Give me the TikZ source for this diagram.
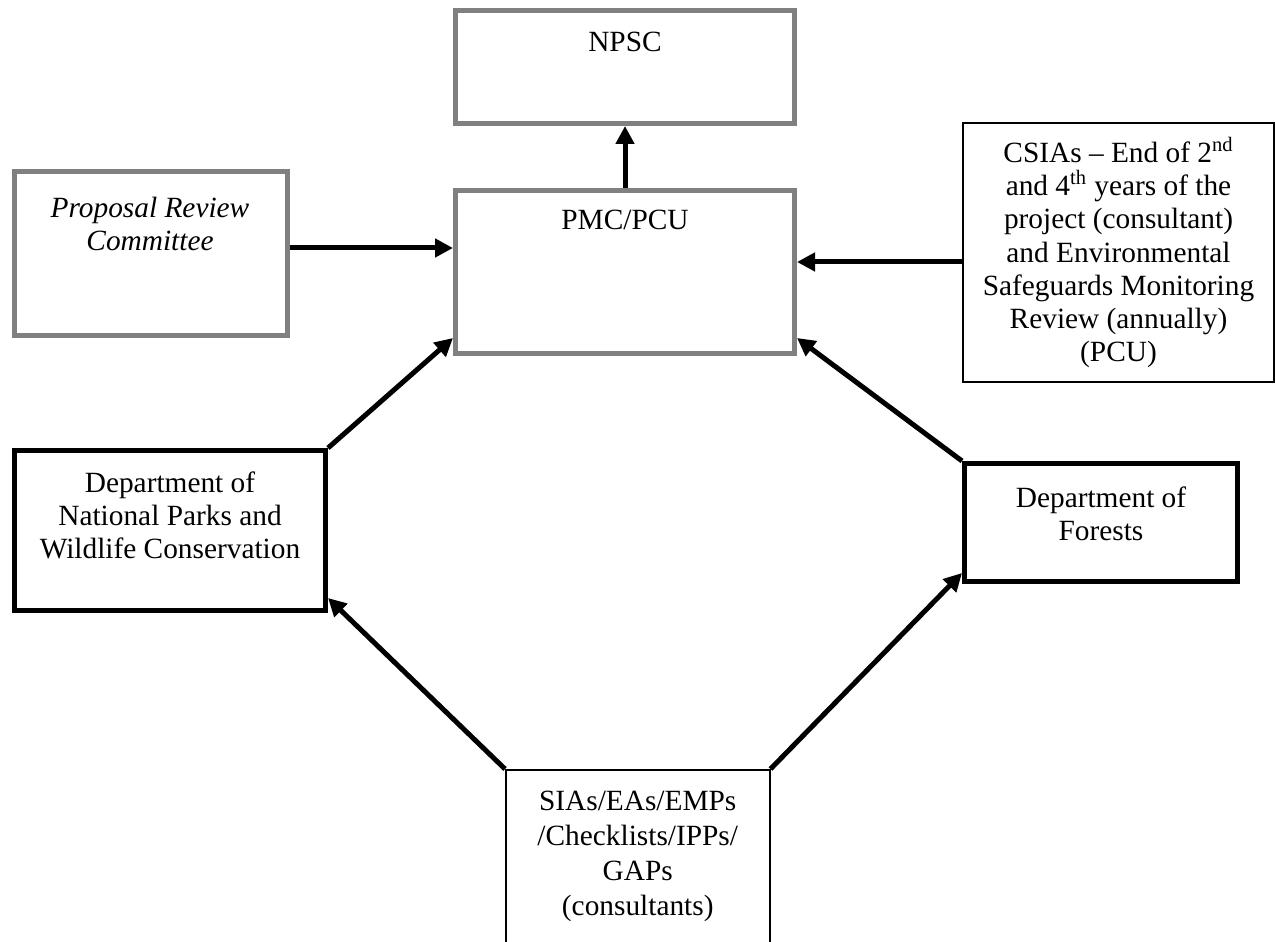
\documentclass[tikz,border=0pt]{standalone}
\usepackage{fontspec}
\setmainfont{Liberation Serif}
\usetikzlibrary{arrows.meta,calc}
\tikzset{
	graybox/.style={draw=black!50, line width=1mm},
	blackbox/.style={draw=black, line width=1mm},
	thinbox/.style={draw=black, line width=0.4mm},
	boxtext/.style={align=center, inner sep=0pt, font=\fontsize{16.7}{18.8}\selectfont},
	linkarrow/.style={line width=1mm, -{Triangle[length=3.6mm, width=3.6mm]}},
}

\begin{document}
\begin{tikzpicture}
		%%%%% START %%%%%
		\useasboundingbox (0, 0) rectangle (25.5, 18.82);
		
		\node[graybox, minimum width=6.78cm, minimum height=2.26cm] (npsc) at (12.5, 17.48) {};
		\node[boxtext] (npsctext) at (12.5, 17.98) {NPSC};
		
		\node[graybox, minimum width=6.78cm, minimum height=3.26cm] (pmc) at (12.5, 13.38) {};
		\node[boxtext] (pmctext) at (12.5, 14.42) {PMC/PCU};
		
		\node[graybox, minimum width=5.46cm, minimum height=3.28cm] (prc) at (3.02, 13.75) {};
		\node[boxtext, font=\fontsize{16.7}{18.8}\selectfont\itshape] (prctext) at (3.0, 14.35) {Proposal Review\\Committee};
		
		\node[thinbox, boxtext, minimum width=6.22cm, minimum height=5.18cm] (csia) at (22.37, 13.77) {CSIAs -- End of 2\textsuperscript{nd}\\and 4\textsuperscript{th} years of the\\project (consultant)\\and Environmental\\Safeguards Monitoring\\Review (annually)\\(PCU)};
		
		\node[blackbox, minimum width=6.22cm, minimum height=3.2cm] (dnp) at (3.4, 8.21) {};
		\node[boxtext] (dnptext) at (3.4, 8.52) {Department of\\National Parks and\\Wildlife Conservation};
		
		\node[blackbox, minimum width=5.46cm, minimum height=2.36cm] (forests) at (22.02, 8.37) {};
		\node[boxtext] (foreststext) at (22.02, 8.55) {Department of\\Forests};
		
		\node[thinbox, minimum width=5.27cm, minimum height=3.92cm] (sias) at (12.755, 1.46) {};
		\node[boxtext, font=\fontsize{16.7}{19.9}\selectfont] (siastext) at (12.755, 1.69) {SIAs/EAs/EMPs\\/Checklists/IPPs/\\GAPs\\(consultants)};
		
		\draw[linkarrow] (pmc.north) -- (npsc.south);
		\draw[linkarrow] ([yshift=0.11cm]prc.east) -- ([yshift=0.11cm]prc.east -| pmc.west);
		\draw[linkarrow] ([yshift=-0.19cm]csia.west) -- ([yshift=-0.19cm]csia.west -| pmc.east);
		
		\draw[linkarrow] (dnp.north east) -- ([yshift=0.36cm]pmc.south west);
		\draw[linkarrow] (forests.north west) -- ([yshift=0.36cm]pmc.south east);
		
		\draw[linkarrow] (sias.north west) -- ([yshift=0.3cm]dnp.south east);
		\draw[linkarrow] (sias.north east) -- ([yshift=0.22cm]forests.south west);
		%%%%% END %%%%%
\end{tikzpicture}
\end{document}
